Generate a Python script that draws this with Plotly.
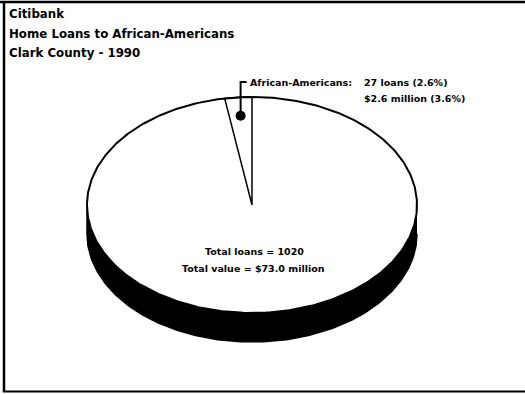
import numpy as np
import plotly.graph_objects as go

# ---- data ----
groups = ["African-Americans", "Other"]
loans = [27, 993]            # total 1020
values_musd = [2.6, 70.4]    # total 73.0
title_lines = ["Citibank", "Home Loans to African-Americans", "Clark County - 1990"]

total_loans = sum(loans)
total_value = sum(values_musd)
share = loans[0] / total_loans

# ---- geometry (pixel-like coordinates) ----
W, H = 525, 394
cx, cy, rx, ry, depth = 252, 205, 165, 108, 29

def pt(theta_deg, r=1.0, dy=0.0):
    t = np.radians(theta_deg)
    return cx + rx * r * np.sin(t), cy - ry * r * np.cos(t) + dy

fig = go.Figure()

# side of the disc (lower half extruded)
th = np.linspace(90, 270, 181)
xs1, ys1 = pt(th)
xs2, ys2 = pt(th[::-1], dy=depth)
fig.add_trace(go.Scatter(x=np.concatenate([xs1, xs2]), y=np.concatenate([ys1, ys2]),
                         fill="toself", fillcolor="black", mode="lines",
                         line=dict(color="black", width=1.5), hoverinfo="skip"))

# top face
th_all = np.linspace(0, 360, 361)
xt, yt = pt(th_all)
fig.add_trace(go.Scatter(x=xt, y=yt, fill="toself", fillcolor="white", mode="lines",
                         line=dict(color="black", width=2), hoverinfo="skip"))

# wedge for African-Americans (counter-clockwise from 12 o'clock)
a0 = -share * 360
thw = np.linspace(a0, 0, 20)
xw, yw = pt(thw)
fig.add_trace(go.Scatter(x=np.concatenate([[cx], xw, [cx]]), y=np.concatenate([[cy], yw, [cy]]),
                         mode="lines", line=dict(color="black", width=1.5), hoverinfo="skip"))

# dot + leader line
mid = a0 / 2
dx_, dy_ = pt(mid, r=0.83)
fig.add_trace(go.Scatter(x=[dx_, dx_, dx_ + 6], y=[dy_, 82, 82], mode="lines",
                         line=dict(color="black", width=2), hoverinfo="skip"))
fig.add_trace(go.Scatter(x=[dx_], y=[dy_], mode="markers",
                         marker=dict(color="black", size=10), hoverinfo="skip"))

font_b = "DejaVu Sans"
ann = []
for i, t in enumerate(title_lines):
    ann.append(dict(x=7, y=14 + 19.5 * i, text=f"<b>{t}</b>", xanchor="left", yanchor="middle",
                    showarrow=False, font=dict(family=font_b, size=11.8, color="black")))
small = dict(family=font_b, size=9.5, color="black")
ann.append(dict(x=dx_ + 7, y=82, text=f"<b>{groups[0]}:</b>", xanchor="left", yanchor="middle",
                showarrow=False, font=small))
ann.append(dict(x=362, y=82, text=f"<b>{loans[0]} loans ({100*share:.1f}%)</b>", xanchor="left",
                yanchor="middle", showarrow=False, font=small))
ann.append(dict(x=362, y=98,
                text=f"<b>${values_musd[0]:.1f} million ({100*values_musd[0]/total_value:.1f}%)</b>",
                xanchor="left", yanchor="middle", showarrow=False, font=small))
ann.append(dict(x=254, y=251, text=f"<b>Total loans = {total_loans}</b>", xanchor="center",
                yanchor="middle", showarrow=False, font=small))
ann.append(dict(x=253, y=268, text=f"<b>Total value = ${total_value:.1f} million</b>", xanchor="center",
                yanchor="middle", showarrow=False, font=small))

shapes = [
    dict(type="line", xref="x", yref="y", x0=0, x1=W, y0=2, y1=2, line=dict(color="black", width=2.5)),
    dict(type="line", xref="x", yref="y", x0=4, x1=4, y0=1, y1=392, line=dict(color="black", width=2.5)),
    dict(type="line", xref="x", yref="y", x0=3, x1=W, y0=391.5, y1=391.5, line=dict(color="black", width=2)),
]

fig.update_layout(
    width=W, height=H, margin=dict(l=0, r=0, t=0, b=0),
    paper_bgcolor="white", plot_bgcolor="white", showlegend=False,
    xaxis=dict(range=[0, W], visible=False, fixedrange=True),
    yaxis=dict(range=[H, 0], visible=False, fixedrange=True),
    annotations=ann, shapes=shapes,
)
fig.write_html("out.html")
